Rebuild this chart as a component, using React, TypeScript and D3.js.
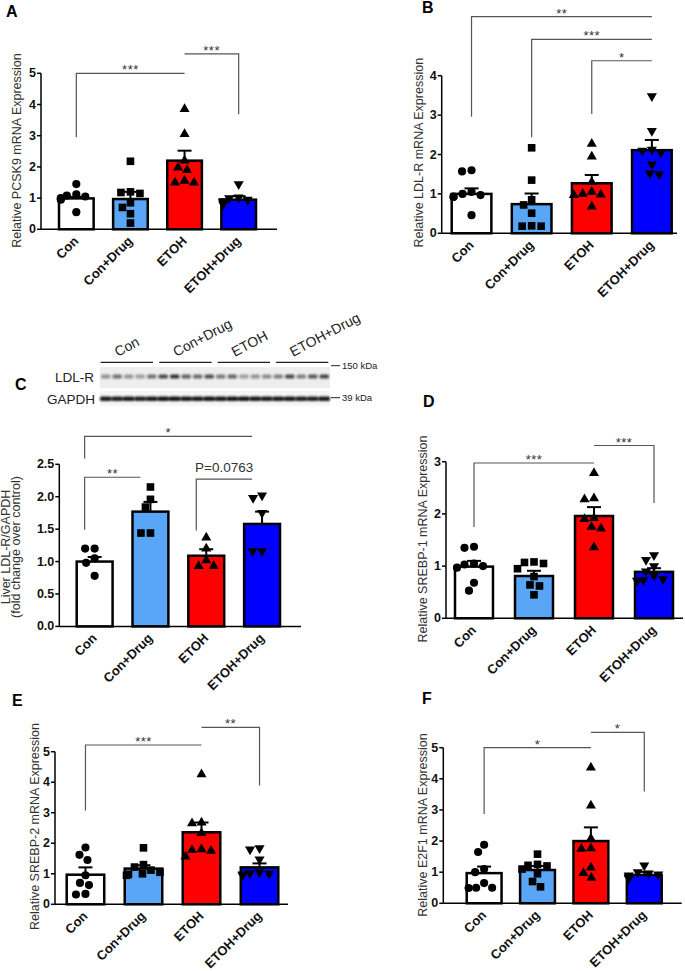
import React, { useEffect } from "react";
import * as d3 from "d3";

// ---------- shared categories / styles ----------
const groups = ["Con", "Con+Drug", "ETOH", "ETOH+Drug"];
const groupColors = ["#FFFFFF", "#58A6F5", "#FF0000", "#0000FF"];
const groupShapes = ["circle", "square", "triangle", "triangleDown"];

// ---------- Panel A: PCSK9 ----------
const pcsk9Mean = [0.99, 0.97, 2.2, 0.95];
const pcsk9Sem = [0.05, 0.23, 0.32, 0.11];
const pcsk9Points = [
  [1.45, 1.12, 1.08, 1.05, 1.0, 0.98, 0.95, 0.55],
  [2.18, 1.2, 1.18, 1.15, 0.85, 0.7, 0.5, 0.2],
  [3.85, 3.05, 2.2, 1.98, 1.9, 1.55, 1.5, 1.5],
  [1.45, 1.02, 1.0, 0.95, 0.9, 0.88, 0.85, 0.8],
];
const pcsk9Brackets = [
  { from: 0, to: 2, level: 5.0, leftLeg: 2.95, label: "***" },
  { from: 2, to: 3, level: 5.62, rightLeg: 3.69, label: "***" },
];

// ---------- Panel B: LDL-R mRNA ----------
const ldlrMean = [1.0, 0.74, 1.27, 2.11];
const ldlrSem = [0.14, 0.27, 0.21, 0.26];
const ldlrPoints = [
  [1.6, 1.57, 1.05, 1.0, 0.97, 0.93, 0.92, 0.46],
  [2.17, 1.35, 0.85, 0.72, 0.51, 0.19, 0.18, 0.18],
  [2.27, 1.95, 1.3, 1.05, 1.0, 0.98, 0.97, 0.68],
  [3.48, 2.6, 2.12, 2.1, 2.05, 1.75, 1.52, 1.5],
];
const ldlrBrackets = [
  { from: 0, to: 3, level: 5.5, leftLeg: 2.96, label: "**" },
  { from: 1, to: 3, level: 4.92, leftLeg: 2.44, label: "***" },
  { from: 2, to: 3, level: 4.38, leftLeg: 3.03, label: "*" },
];

// ---------- Panel C: Western blot quantification ----------
const blotMean = [1.0, 1.77, 1.09, 1.58];
const blotSem = [0.07, 0.15, 0.1, 0.19];
const blotPoints = [
  [1.2, 1.2, 1.05, 0.98, 0.78],
  [2.15, 1.96, 1.84, 1.44, 1.44],
  [1.37, 1.2, 1.02, 0.93, 0.93],
  [2.02, 1.98, 1.75, 1.16, 1.16],
];
const blotBrackets = [
  { from: 0, to: 3, level: 2.93, leftLeg: 2.59, label: "*" },
  { from: 0, to: 1, level: 2.3, leftLeg: 1.49, label: "**" },
  { from: 2, to: 3, level: 2.27, leftLeg: 1.48, label: "P=0.0763" },
];
const ldlrBandIntensity = [
  0.45, 0.62, 0.45, 0.4, 0.62, 0.82, 0.95, 0.7, 0.65, 0.8,
  0.58, 0.68, 0.4, 0.45, 0.5, 0.55, 0.82, 0.55, 0.75, 0.85,
];
const gapdhBandIntensity = [
  0.9, 0.88, 0.9, 0.88, 0.9, 0.92, 0.92, 0.9, 0.9, 0.92,
  0.9, 0.92, 0.92, 0.9, 0.9, 0.9, 0.9, 0.88, 0.88, 0.9,
];
const blotRows = ["LDL-R", "GAPDH"];
const blotMarkers = ["150 kDa", "39 kDa"];

// ---------- Panel D: SREBP-1 ----------
const srebp1Mean = [0.99, 0.81, 1.96, 0.89];
const srebp1Sem = [0.11, 0.1, 0.17, 0.07];
const srebp1Points = [
  [1.37, 1.35, 1.05, 1.03, 1.0, 0.97, 0.68, 0.53],
  [1.08, 1.07, 1.05, 0.95, 0.8, 0.64, 0.62, 0.45],
  [2.78, 2.3, 2.28, 1.92, 1.9, 1.75, 1.72, 1.36],
  [1.21, 1.12, 1.0, 0.9, 0.81, 0.75, 0.73, 0.72],
];
const srebp1Brackets = [
  { from: 0, to: 2, level: 2.975, leftLeg: 1.75, label: "***" },
  { from: 2, to: 3, level: 3.31, rightLeg: 2.21, label: "***" },
];

// ---------- Panel E: SREBP-2 ----------
const srebp2Mean = [0.97, 1.17, 2.36, 1.21];
const srebp2Sem = [0.24, 0.11, 0.32, 0.13];
const srebp2Points = [
  [1.86, 1.62, 1.45, 0.95, 0.7, 0.63, 0.34, 0.32],
  [1.85, 1.3, 1.22, 1.12, 1.05, 1.0, 0.98, 0.95],
  [4.26, 2.68, 2.65, 2.33, 1.8, 1.78, 1.75, 1.56],
  [1.84, 1.8, 1.47, 1.05, 1.02, 1.0, 0.98, 0.95],
];
const srebp2Brackets = [
  { from: 0, to: 2, level: 5.22, leftLeg: 3.07, label: "***" },
  { from: 2, to: 3, level: 5.8, rightLeg: 3.89, label: "**" },
];

// ---------- Panel F: E2F1 ----------
const e2f1Mean = [0.97, 1.07, 2.0, 0.91];
const e2f1Sem = [0.21, 0.13, 0.44, 0.1];
const e2f1Points = [
  [1.88, 1.65, 1.1, 1.0, 0.65, 0.5, 0.5, 0.49],
  [1.58, 1.25, 1.22, 1.2, 1.1, 0.95, 0.7, 0.53],
  [4.36, 3.14, 2.08, 1.77, 1.75, 1.15, 0.97, 0.82],
  [1.22, 1.0, 0.96, 0.93, 0.9, 0.86, 0.82, 0.8],
];
const e2f1Brackets = [
  { from: 0, to: 2, level: 5.0, leftLeg: 2.87, label: "*" },
  { from: 2, to: 3, level: 5.49, rightLeg: 3.59, label: "*" },
];

// ---------- layout ----------
const FONT = "'Liberation Sans', Arial, Helvetica, sans-serif";

type Bracket = { from: number; to: number; level: number; leftLeg?: number; rightLeg?: number; label: string };

const panels = [
  {
    letter: "A", lx: 6, ly: 17, mean: pcsk9Mean, sem: pcsk9Sem, pts: pcsk9Points, br: pcsk9Brackets,
    yMax: 5, step: 1, fmt: "d", axisX: 41, axisEnd: 277, y0: 229.3, yTop: 73.3,
    bars: [59, 256], pi: 0.36, ylabel: ["Relative PCSK9 mRNA Expression"], ylx: [17], yly: 150.5, shift: 0,
  },
  {
    letter: "B", lx: 422, ly: 13, mean: ldlrMean, sem: ldlrSem, pts: ldlrPoints, br: ldlrBrackets,
    yMax: 4, step: 1, fmt: "d", axisX: 441.7, axisEnd: 677, y0: 233.3, yTop: 75.7,
    bars: [451.7, 671.7], pi: 0.34, ylabel: ["Relative LDL-R mRNA Expression"], ylx: [419], yly: 152.7, shift: 0,
  },
  {
    letter: "C", lx: 15, ly: 390, mean: blotMean, sem: blotSem, pts: blotPoints, br: blotBrackets,
    yMax: 2.5, step: 0.5, fmt: ".1f", axisX: 59.3, axisEnd: 301, y0: 626.4, yTop: 464.3,
    bars: [76.7, 280], pi: 0.357, ylabel: ["Liver LDL-R/GAPDH", "(fold change over control)"], ylx: [6, 16], yly: 547, shift: -10,
  },
  {
    letter: "D", lx: 423, ly: 407, mean: srebp1Mean, sem: srebp1Sem, pts: srebp1Points, br: srebp1Brackets,
    yMax: 3, step: 1, fmt: "d", axisX: 446, axisEnd: 683, y0: 618.3, yTop: 461.7,
    bars: [455, 673], pi: 0.367, ylabel: ["Relative SREBP-1 mRNA Expression"], ylx: [423], yly: 539, shift: 0,
  },
  {
    letter: "E", lx: 12, ly: 706, mean: srebp2Mean, sem: srebp2Sem, pts: srebp2Points, br: srebp2Brackets,
    yMax: 5, step: 1, fmt: "d", axisX: 55, axisEnd: 288, y0: 904.3, yTop: 751.7,
    bars: [66.7, 278.3], pi: 0.353, ylabel: ["Relative SREBP-2 mRNA Expression"], ylx: [35], yly: 826.5, shift: 0,
  },
  {
    letter: "F", lx: 422, ly: 704, mean: e2f1Mean, sem: e2f1Sem, pts: e2f1Points, br: e2f1Brackets,
    yMax: 5, step: 1, fmt: "d", axisX: 443.3, axisEnd: 681.7, y0: 903.3, yTop: 747.7,
    bars: [466.7, 661.7], pi: 0.347, ylabel: ["Relative E2F1 mRNA Expression"], ylx: [423.3], yly: 825, shift: 0,
  },
];

// simple deterministic beeswarm (GraphPad-like scatter)
function swarm(ys: number[], D: number, maxHalf: number): number[] {
  const order = ys.map((_, i) => i).sort((a, b) => ys[a] - ys[b]);
  const xs = new Array(ys.length).fill(0);
  const placed: { x: number; y: number }[] = [];
  for (const i of order) {
    const y = ys[i];
    let chosen = 0;
    for (let k = 0; k < 400; k++) {
      const m = Math.ceil(k / 2) * 0.5;
      const cand = k === 0 ? 0 : k % 2 === 1 ? -m : m;
      if (Math.abs(cand) > maxHalf) { chosen = cand; break; }
      if (placed.every((p) => (p.x - cand) ** 2 + (p.y - y) ** 2 >= D * D)) { chosen = cand; break; }
    }
    xs[i] = chosen;
    placed.push({ x: chosen, y });
  }
  return xs;
}

function markerPath(shape: string): { d: string; rot: number } {
  if (shape === "circle") return { d: d3.symbol(d3.symbolCircle, 52)() as string, rot: 0 };
  if (shape === "square") return { d: d3.symbol(d3.symbolSquare, 58)() as string, rot: 0 };
  if (shape === "triangle") return { d: d3.symbol(d3.symbolTriangle, 44)() as string, rot: 0 };
  return { d: d3.symbol(d3.symbolTriangle, 44)() as string, rot: 180 };
}

function Panel({ p }: { p: (typeof panels)[number] }) {
  const x = d3.scaleBand<string>().domain(groups).range(p.bars as [number, number]).paddingInner(p.pi).paddingOuter(0);
  const y = d3.scaleLinear().domain([0, p.yMax]).range([p.y0, p.yTop]);
  const ticks = d3.range(0, p.yMax + 1e-9, p.step);
  const fmt = d3.format(p.fmt);
  const bw = x.bandwidth();
  const cx = (i: number) => (x(groups[i]) as number) + bw / 2;

  return (
    <g>
      <text x={p.lx} y={p.ly} fontSize={16} fontWeight="bold" fill="#000">{p.letter}</text>
      {/* y label */}
      {p.ylabel.map((t, i) => (
        <text key={i} transform={`translate(${p.ylx[i]},${p.yly}) rotate(-90)`} textAnchor="middle"
          dominantBaseline="central" fontSize={12.5} fill="#333">{t}</text>
      ))}
      {/* bars */}
      {groups.map((g, i) => (
        <rect key={g} x={x(g)} y={y(p.mean[i])} width={bw} height={p.y0 - y(p.mean[i])}
          fill={groupColors[i]} stroke="#000" strokeWidth={2.5} />
      ))}
      {/* points */}
      {groups.map((g, i) => {
        const ys = p.pts[i].map((v) => y(v));
        const xs = swarm(ys, 9.2, bw / 2 - 2);
        const m = markerPath(groupShapes[i]);
        return ys.map((yy, j) => (
          <path key={g + j} d={m.d} transform={`translate(${cx(i) + xs[j]},${yy}) rotate(${m.rot})`} fill="#000" />
        ));
      })}
      {/* error bars */}
      {groups.map((g, i) => {
        const yt = y(p.mean[i] + p.sem[i]);
        const ym = y(p.mean[i]);
        return (
          <g key={"e" + g} stroke="#000" strokeWidth={2}>
            <line x1={cx(i)} x2={cx(i)} y1={ym} y2={yt} />
            <line x1={cx(i) - 7} x2={cx(i) + 7} y1={yt} y2={yt} />
          </g>
        );
      })}
      {/* axes */}
      <line x1={p.axisX} x2={p.axisX} y1={p.y0} y2={y(p.yMax)} stroke="#000" strokeWidth={1.5} />
      <line x1={p.axisX} x2={p.axisEnd} y1={p.y0} y2={p.y0} stroke="#000" strokeWidth={1.5} />
      {ticks.map((t) => (
        <g key={t}>
          <line x1={p.axisX - 4} x2={p.axisX} y1={y(t)} y2={y(t)} stroke="#000" strokeWidth={1.5} />
          <text x={p.axisX - 5} y={y(t)} textAnchor="end" dominantBaseline="central" fontSize={12.5}
            fontWeight="bold" fill="#111">{fmt(t)}</text>
        </g>
      ))}
      {/* x labels */}
      {groups.map((g, i) => (
        <text key={"xl" + g} transform={`translate(${cx(i) + 3},${p.y0 + 12.5}) rotate(-45)`} textAnchor="end"
          fontSize={13} fontWeight="bold" fill="#111">{g}</text>
      ))}
      {/* significance brackets */}
      {(p.br as Bracket[]).map((b, k) => {
        const x1 = cx(b.from) + p.shift;
        const x2 = cx(b.to) + p.shift;
        const yl = y(b.level);
        const ya = b.leftLeg !== undefined ? y(b.leftLeg) : yl;
        const yb = b.rightLeg !== undefined ? y(b.rightLeg) : yl;
        const isP = b.label.startsWith("P");
        return (
          <g key={"b" + k}>
            <path d={`M${x1},${ya}V${yl}H${x2}V${yb}`} fill="none" stroke="#555" strokeWidth={1.2} />
            <text x={(x1 + x2) / 2} y={isP ? yl - 7 : yl + 1} textAnchor="middle" fontSize={isP ? 13.5 : 13}
              letterSpacing={isP ? 0 : 0.5} fill="#333">{b.label}</text>
          </g>
        );
      })}
    </g>
  );
}

function Blot() {
  const segStarts = [100.7, 159.3, 217.7, 276];
  const segW = 52.3;
  const lanes = d3.scaleBand<number>().domain(d3.range(20)).range([101, 329]).paddingInner(0.18);
  return (
    <g>
      <defs>
        <filter id="blur" x="-20%" y="-50%" width="140%" height="200%">
          <feGaussianBlur stdDeviation="0.8" />
        </filter>
      </defs>
      {groups.map((g, i) => (
        <g key={g}>
          <text transform={`translate(${segStarts[i] + 17},357) rotate(-28)`} fontSize={14} fill="#222">{g}</text>
          <line x1={segStarts[i]} x2={segStarts[i] + segW} y1={362.3} y2={362.3} stroke="#222" strokeWidth={1.3} />
        </g>
      ))}
      <rect x={100} y={367} width={230} height={21} fill="#eeeeee" />
      <rect x={100} y={391} width={230} height={15} fill="#f6f6f6" />
      <g filter="url(#blur)">
        {ldlrBandIntensity.map((v, i) => (
          <rect key={"l" + i} x={lanes(i)} y={374.5} width={lanes.bandwidth()} height={4} rx={1.5}
            fill="#000" opacity={v * 0.85} />
        ))}
        {gapdhBandIntensity.map((v, i) => (
          <rect key={"g" + i} x={(lanes(i) as number) - 1} y={396.5} width={lanes.bandwidth() + 2} height={4.5} rx={1.5}
            fill="#000" opacity={v} />
        ))}
      </g>
      <text x={94} y={382} textAnchor="end" fontSize={13.5} fill="#222">{blotRows[0]}</text>
      <text x={95} y={403.5} textAnchor="end" fontSize={13.5} fill="#222">{blotRows[1]}</text>
      <line x1={331} x2={340} y1={365.7} y2={365.7} stroke="#222" strokeWidth={1} />
      <line x1={331} x2={340} y1={397.7} y2={397.7} stroke="#222" strokeWidth={1} />
      <text x={342} y={369} fontSize={9.5} fill="#222">{blotMarkers[0]}</text>
      <text x={342} y={401} fontSize={9.5} fill="#222">{blotMarkers[1]}</text>
    </g>
  );
}

export default function App() {
  useEffect(() => {
    document.body.style.margin = "0";
  }, []);
  return (
    <div style={{ position: "absolute", left: 0, top: 0 }}>
      <svg width={685} height={971} style={{ display: "block", background: "#fff", fontFamily: FONT }}>
        <rect width={685} height={971} fill="#fff" />
        {panels.map((p) => (
          <Panel key={p.letter} p={p} />
        ))}
        <Blot />
      </svg>
    </div>
  );
}
